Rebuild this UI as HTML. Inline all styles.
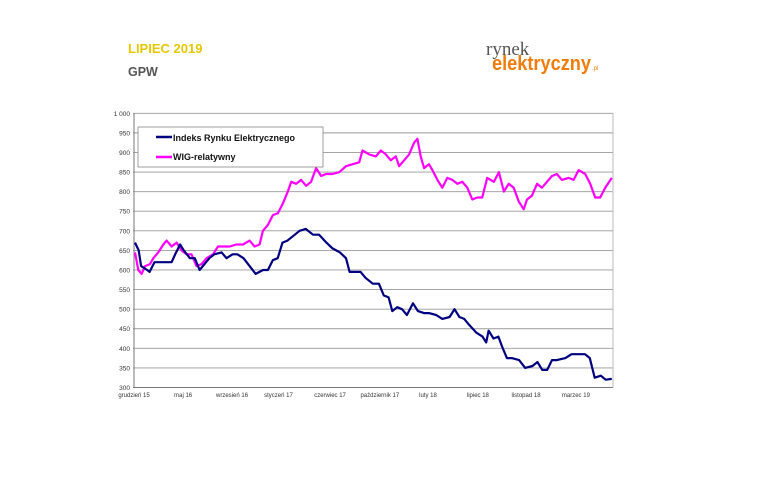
<!DOCTYPE html>
<html><head><meta charset="utf-8"><style>
body{margin:0;background:#fff;width:770px;height:480px;overflow:hidden;font-family:"Liberation Sans",sans-serif}
svg{position:absolute;left:0;top:0}
</style></head><body>
<svg width="770" height="480">
<text x="128" y="53" font-size="13" font-weight="bold" fill="#e6c800">LIPIEC 2019</text>
<text x="128" y="76" font-size="12.5" font-weight="bold" fill="#555">GPW</text>
<g>
<text x="486" y="55" font-family="Liberation Serif,serif" font-size="19" fill="#555">rynek</text>
<text x="492" y="70" font-size="20" font-weight="bold" fill="#f07d0a" textLength="99" lengthAdjust="spacingAndGlyphs">elektryczny</text>
<text x="592" y="70" font-size="6" fill="#f07d0a">.pl</text>
</g>
<g id="grid"></g><g id="ylab"></g><g id="xlab"></g><g id="series"></g>
<g>
<rect x="138" y="127" width="185" height="40" fill="#fff" stroke="#888" stroke-width="0.8"/>
<line x1="156" y1="137" x2="172" y2="137" stroke="#000080" stroke-width="2.5"/>
<text x="173" y="141" font-size="9" font-weight="bold" fill="#111">Indeks Rynku Elektrycznego</text>
<line x1="156" y1="157" x2="172" y2="157" stroke="#ff00ff" stroke-width="2.5"/>
<text x="173" y="160" font-size="9" font-weight="bold" fill="#111">WIG-relatywny</text>
</g>
</svg>
<script>
const yTicks=[300,350,400,450,500,550,600,650,700,750,800,850,900,950,1000];
const yTickLabels=["300","350","400","450","500","550","600","650","700","750","800","850","900","950","1 000"];
const xTickMonths=[0,4.03,8.04,11.85,16.08,20.16,24.11,28.2,32.15,36.24];
const xTickLabels=["grudzień 15","maj 16","wrzesień 16","styczeń 17","czerwiec 17","październik 17","luty 18","lipiec 18","listopad 18","marzec 19"];
const ireT=[0,0.3,0.5,1.0,1.2,1.6,2.0,2.6,3.0,3.3,3.7,4.0,4.5,4.9,5.3,5.7,6.1,6.5,7.1,7.5,8.0,8.4,8.9,9.4,9.9,10.5,10.9,11.3,11.7,12.1,12.5,12.9,13.5,14.0,14.6,15.1,15.7,16.2,16.8,17.3,17.6,18.1,18.5,18.9,19.5,20.0,20.4,20.8,21.1,21.5,21.9,22.3,22.8,23.2,23.7,24.1,24.7,25.2,25.8,26.2,26.6,27.0,27.4,28.0,28.5,28.8,29.0,29.4,29.8,30.1,30.5,30.9,31.5,32.0,32.6,33.0,33.4,33.8,34.2,34.6,35.3,35.8,36.4,36.9,37.3,37.7,38.2,38.6,39.1];
const ireValues=[670,650,610,600,595,620,620,620,620,640,665,650,630,630,600,615,630,640,645,630,640,640,630,610,590,600,600,625,630,670,675,685,700,705,690,690,670,655,645,630,595,595,595,580,565,565,535,530,495,505,500,485,515,495,490,490,485,475,480,500,480,475,460,440,430,415,445,425,430,405,375,375,370,350,355,365,345,345,370,370,375,385,385,385,375,325,330,320,322];
const wigT=[0,0.27,0.54,0.82,1.23,1.5,1.91,2.32,2.59,3.0,3.41,3.81,4.22,4.63,5.04,5.45,5.86,6.4,6.81,7.22,7.77,8.31,8.86,9.4,9.81,10.22,10.49,10.9,11.31,11.72,12.13,12.53,12.81,13.22,13.62,14.03,14.44,14.85,15.26,15.67,16.21,16.76,17.3,17.85,18.39,18.66,19.21,19.75,20.16,20.57,20.98,21.39,21.66,22.07,22.48,22.89,23.16,23.43,23.71,24.11,24.39,24.8,25.2,25.61,26.02,26.43,26.84,27.25,27.66,28.07,28.47,28.88,29.43,29.84,30.25,30.65,31.06,31.47,31.88,32.15,32.56,32.97,33.38,33.79,34.2,34.6,35.01,35.56,35.97,36.38,36.92,37.33,37.74,38.15,38.56,39.1];
const wigValues=[645,600,590,610,615,630,645,665,675,660,670,650,640,640,610,615,630,640,660,660,660,665,665,675,660,665,700,715,740,745,770,800,825,820,830,815,825,860,840,845,845,850,865,870,875,905,895,890,905,895,880,890,865,880,895,925,935,890,860,870,855,830,810,835,830,820,825,810,780,785,785,835,825,850,800,820,810,775,755,780,790,820,810,825,840,845,830,835,830,855,845,820,785,785,810,835];

const X0=135,X1=613,T1=39.2,Y0=387.5,Y1=113.3;
const xs=t=>X0+t*(X1-X0)/T1;
const ys=v=>Y0-(v-300)*(Y0-Y1)/700;
const NS="http://www.w3.org/2000/svg";
function mk(tag,parent){const e=document.createElementNS(NS,tag);document.getElementById(parent).appendChild(e);return e;}
yTicks.forEach((v,i)=>{
  const l=mk('line','grid');
  
  
  l.setAttribute('x1',133);l.setAttribute('x2',X1);l.setAttribute('y1',ys(v));l.setAttribute('y2',ys(v));
  l.setAttribute('stroke',i==0?'#777':'#999');l.setAttribute('stroke-width',i==0?1:0.9);
  const t=mk('text','ylab');
  
  
  t.setAttribute('x',130);t.setAttribute('y',ys(v)+2.5);t.setAttribute('text-anchor','end');t.setAttribute('font-size','6.5');t.setAttribute('fill','#333');
  t.textContent=yTickLabels[i];
});
const ax=mk('line','grid');


ax.setAttribute('x1',134);ax.setAttribute('x2',134);ax.setAttribute('y1',Y1);ax.setAttribute('y2',Y0);ax.setAttribute('stroke','#777');
const rx=mk('line','grid');


rx.setAttribute('x1',X1);rx.setAttribute('x2',X1);rx.setAttribute('y1',Y1);rx.setAttribute('y2',Y0);rx.setAttribute('stroke','#bbb');
xTickMonths.forEach((m,i)=>{
  const t=mk('text','xlab');
  
  
  t.setAttribute('x',xs(m)-1);t.setAttribute('y',397);t.setAttribute('text-anchor','middle');t.setAttribute('font-size','6');t.setAttribute('fill','#333');
  t.textContent=xTickLabels[i];
});
function line(T,V,color,name){
  const p=mk('polyline','series');
  
  
  p.setAttribute('points',T.map((t,i)=>xs(t).toFixed(1)+','+ys(V[i]).toFixed(1)).join(' '));
  p.setAttribute('fill','none');p.setAttribute('stroke',color);p.setAttribute('stroke-width','2.2');p.setAttribute('stroke-linejoin','round');
}
line(wigT,wigValues,'#ff00ff','wig-relatywny-line');
line(ireT,ireValues,'#000080','ire-line');
</script>
</body></html>
